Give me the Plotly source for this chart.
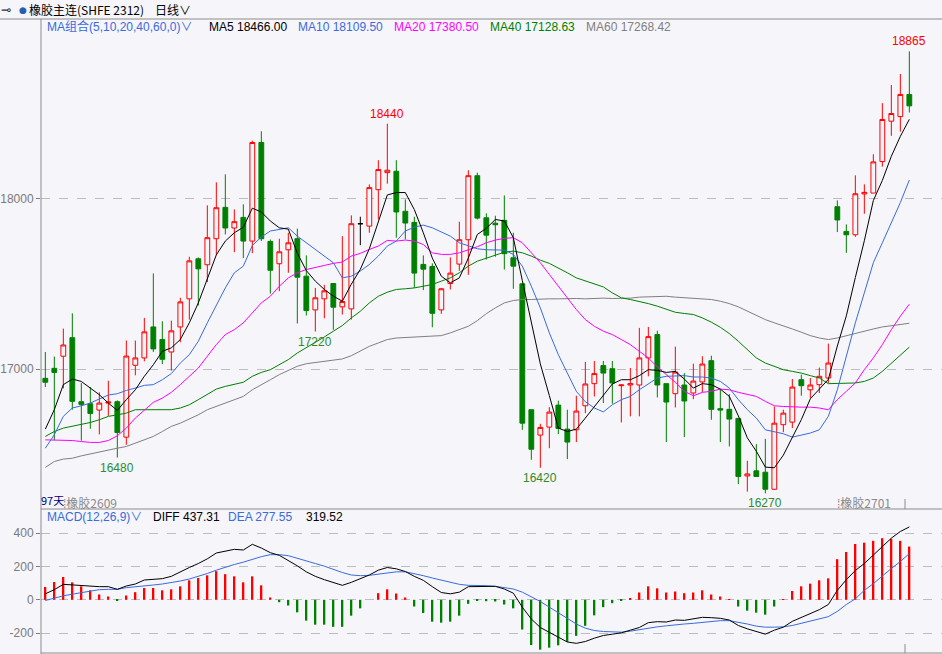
import plotly.graph_objects as go

# ---- candles (97 trading days) ----
opens = [16945, 17004, 17075, 17184, 16808, 16796, 16759, 16800, 16808, 16600,
         17022, 17065, 17247, 17173, 17100, 17247, 17412, 17647, 17612, 17765,
         17949, 17828, 17890, 17751, 18330, 17749, 17618, 17700, 17765, 17545,
         17347, 17412, 17502, 17365, 17353, 17853, 17839, 18053, 18153, 18161,
         17926, 17861, 17614, 17602, 17347, 17502, 17616, 17759, 18135, 17888,
         17856, 17873, 17653, 17500, 16761, 16612, 16659, 16788, 16647, 16643,
         16784, 16914, 17020, 17002, 16902, 16906, 16906, 17065, 17202, 16914,
         16855, 16906, 16859, 16924, 17049, 16767, 16763, 16710, 16372, 16402,
         16394, 16294, 16673, 16688, 16937, 16878, 16908, 16947, 17953, 17808,
         17788, 18028, 18033, 18218, 18455, 18482, 18612]
highs = [17100, 17073, 17237, 17327, 16918, 16894, 16863, 16931, 16816, 17167,
         17167, 17300, 17561, 17280, 17284, 17418, 17659, 17655, 17961, 18096,
         18143, 17937, 17967, 18341, 18396, 17760, 17765, 17800, 17824, 17667,
         17476, 17494, 17502, 17780, 17902, 17894, 18084, 18226, 18440, 18226,
         17996, 17894, 17667, 17620, 17476, 17655, 17865, 18167, 18153, 17914,
         17900, 18019, 17800, 17500, 16761, 16678, 16776, 16814, 16761, 16843,
         17041, 17047, 17047, 17047, 16910, 17006, 17241, 17247, 17225, 16914,
         17131, 16976, 17031, 17075, 17078, 16878, 16853, 16710, 16461, 16559,
         16590, 16780, 16761, 16941, 16967, 16947, 17008, 17149, 17990, 17849,
         18137, 18084, 18261, 18561, 18667, 18732, 18865]
lows = [16894, 16582, 16886, 16761, 16580, 16649, 16616, 16725, 16480, 16555,
        16963, 17045, 17100, 17029, 16990, 17157, 17290, 17373, 17510, 17669,
        17790, 17686, 17651, 17680, 17751, 17443, 17457, 17565, 17267, 17314,
        17220, 17298, 17230, 17320, 17290, 17727, 17800, 17878, 18088, 17771,
        17761, 17476, 17463, 17245, 17324, 17467, 17576, 17553, 17878, 17643,
        17659, 17584, 17471, 16643, 16467, 16420, 16535, 16618, 16471, 16571,
        16741, 16839, 16800, 16796, 16686, 16722, 16722, 16957, 16833, 16571,
        16774, 16600, 16823, 16863, 16702, 16571, 16545, 16325, 16280, 16369,
        16270, 16290, 16629, 16653, 16843, 16829, 16859, 16918, 17804, 17682,
        17776, 17912, 18033, 18188, 18369, 18394, 18506]
closes = [16922, 16980, 17141, 16810, 16792, 16739, 16800, 16806, 16627, 17076,
          17065, 17218, 17118, 17057, 17224, 17394, 17635, 17588, 17771, 17947,
          17828, 17865, 17751, 18330, 17765, 17580, 17688, 17741, 17539, 17343,
          17418, 17459, 17363, 17396, 17853, 17853, 18065, 18171, 18167, 17922,
          17857, 17563, 17586, 17327, 17471, 17563, 17759, 18135, 17886, 17786,
          17847, 17677, 17604, 16682, 16529, 16657, 16747, 16651, 16571, 16753,
          16912, 16973, 16976, 16918, 16906, 16914, 17065, 17190, 16906, 16806,
          16982, 16812, 16929, 17029, 16763, 16759, 16706, 16369, 16384, 16369,
          16294, 16682, 16741, 16894, 16902, 16906, 16957, 17035, 17875, 17788,
          18029, 18037, 18216, 18465, 18500, 18612, 18545]

# ---- moving averages ----
ma5 = [16647, 16761, 16908, 16941, 16927, 16888, 16849, 16800, 16757, 16820,
       16878, 16957, 17025, 17104, 17124, 17173, 17271, 17388, 17525, 17670,
       17751, 17800, 17832, 17944, 17922, 17869, 17829, 17821, 17680, 17578,
       17516, 17467, 17428, 17398, 17498, 17585, 17706, 17868, 18022, 18036,
       18036, 17936, 17800, 17651, 17545, 17506, 17535, 17651, 17790, 17826,
       17878, 17869, 17771, 17519, 17268, 17030, 16844, 16653, 16633, 16647,
       16712, 16780, 16849, 16912, 16937, 16937, 16961, 16996, 16992, 16980,
       16986, 16941, 16888, 16914, 16908, 16882, 16839, 16725, 16596, 16517,
       16424, 16420, 16494, 16596, 16703, 16825, 16880, 16939, 17135, 17312,
       17537, 17753, 17989, 18107, 18249, 18366, 18466.00]
ma10 = [16535, 16614, 16722, 16771, 16784, 16800, 16824, 16847, 16855, 16874,
        16888, 16904, 16908, 16937, 16973, 17035, 17084, 17163, 17271, 17378,
        17476, 17565, 17604, 17725, 17775, 17810, 17820, 17829, 17780, 17741,
        17702, 17663, 17624, 17535, 17545, 17575, 17614, 17663, 17722, 17751,
        17810, 17833, 17845, 17829, 17804, 17780, 17741, 17722, 17706, 17700,
        17698, 17698, 17673, 17604, 17486, 17359, 17212, 17084, 16976, 16869,
        16808, 16771, 16748, 16790, 16820, 16839, 16878, 16914, 16947, 16957,
        16957, 16961, 16953, 16953, 16947, 16927, 16888, 16820, 16761, 16712,
        16643, 16633, 16620, 16600, 16614, 16624, 16643, 16722, 16878, 17075,
        17271, 17447, 17624, 17741, 17859, 17977, 18109.50]
ma20 = [16584, 16584, 16584, 16580, 16574, 16569, 16569, 16580, 16608, 16653,
        16712, 16761, 16804, 16829, 16863, 16908, 16957, 17006, 17075, 17143,
        17202, 17231, 17271, 17329, 17388, 17427, 17486, 17535, 17565, 17584,
        17594, 17608, 17620, 17628, 17663, 17679, 17702, 17722, 17755, 17751,
        17757, 17751, 17731, 17682, 17673, 17673, 17682, 17698, 17718, 17741,
        17757, 17767, 17771, 17741, 17682, 17624, 17555, 17486, 17418, 17349,
        17290, 17251, 17222, 17202, 17173, 17143, 17104, 17065, 17012, 16967,
        16922, 16869, 16843, 16863, 16869, 16882, 16878, 16863, 16849, 16839,
        16810, 16784, 16780, 16776, 16776, 16776, 16771, 16761, 16820, 16869,
        16918, 16996, 17065, 17143, 17231, 17310, 17380.50]
ma40 = [16604, 16633, 16653, 16663, 16673, 16686, 16702, 16722, 16731, 16741,
        16761, 16761, 16761, 16761, 16761, 16771, 16790, 16820, 16849, 16882,
        16898, 16908, 16922, 16957, 16980, 16996, 17025, 17055, 17094, 17124,
        17157, 17188, 17222, 17255, 17300, 17339, 17388, 17427, 17451, 17467,
        17471, 17476, 17486, 17496, 17516, 17535, 17565, 17604, 17633, 17650,
        17667, 17686, 17692, 17682, 17663, 17639, 17620, 17594, 17565, 17535,
        17516, 17500, 17482, 17447, 17418, 17408, 17398, 17384, 17369, 17349,
        17333, 17326, 17320, 17300, 17275, 17245, 17208, 17163, 17114, 17065,
        17035, 17016, 16996, 16986, 16976, 16961, 16947, 16914, 16914, 16914,
        16918, 16927, 16947, 16986, 17035, 17084, 17128.63]
ma60 = [16422, 16457, 16471, 16476, 16490, 16502, 16512, 16525, 16535, 16545,
        16565, 16584, 16604, 16633, 16663, 16682, 16706, 16731, 16761, 16780,
        16800, 16816, 16839, 16878, 16910, 16937, 16967, 16992, 17016, 17031,
        17039, 17045, 17051, 17059, 17078, 17104, 17133, 17153, 17173, 17182,
        17184, 17186, 17190, 17192, 17196, 17212, 17231, 17251, 17284, 17325,
        17359, 17388, 17402, 17408, 17408, 17412, 17412, 17412, 17414, 17414,
        17412, 17416, 17416, 17414, 17414, 17416, 17422, 17425, 17427, 17427,
        17422, 17418, 17416, 17412, 17408, 17398, 17384, 17365, 17339, 17314,
        17290, 17271, 17255, 17235, 17216, 17196, 17182, 17173, 17182, 17196,
        17206, 17220, 17235, 17247, 17255, 17263, 17268.42]

# ---- MACD(12,26,9) ----
diff = [36, 61, 93, 89, 89, 83, 79, 79, 63, 83,
        95, 119, 125, 127, 141, 170, 194, 218, 246, 281,
        293, 303, 299, 333, 311, 283, 267, 238, 204, 168,
        141, 121, 103, 87, 105, 127, 149, 178, 194, 186,
        170, 141, 117, 79, 44, 36, 46, 79, 81, 81,
        81, 65, 40, -44, -115, -166, -196, -226, -253, -261,
        -250, -230, -214, -206, -198, -182, -166, -137, -131, -133,
        -121, -123, -113, -105, -107, -111, -121, -154, -174, -190,
        -206, -182, -164, -129, -105, -85, -59, -28, 57, 121,
        176, 218, 267, 319, 370, 410, 437.31]
dea = [-4, 12, 24, 34, 44, 55, 61, 63, 63, 73,
       77, 83, 89, 95, 103, 113, 125, 141, 158, 178,
       196, 212, 226, 244, 259, 271, 271, 265, 248, 232,
       218, 202, 182, 164, 149, 145, 147, 154, 162, 168,
       168, 158, 145, 131, 119, 105, 93, 87, 87, 85,
       81, 73, 65, 46, 20, -10, -44, -79, -111, -145,
       -170, -184, -190, -194, -194, -188, -178, -170, -162, -156,
       -149, -145, -141, -135, -127, -125, -125, -133, -145, -158,
       -164, -164, -162, -154, -141, -129, -115, -101, -69, -28,
       6, 57, 97, 145, 188, 230, 277.55]
macd_hist = [77, 107, 137, 105, 81, 57, 32, 20, -4, 26,
             46, 71, 71, 57, 63, 81, 117, 131, 147, 172,
             154, 141, 105, 141, 87, 14, -14, -34, -75, -125,
             -149, -149, -162, -162, -95, -51, 0, 40, 63, 38,
             14, -40, -79, -131, -137, -131, -95, -24, -3, -8,
             -10, -28, -51, -178, -271, -299, -287, -273, -253, -216,
             -156, -93, -44, -20, -4, 10, 44, 81, 69, 44,
             50, 40, 44, 57, 32, 20, 4, -40, -65, -77,
             -89, -40, 4, 53, 81, 97, 117, 129, 244, 287,
             335, 343, 354, 370, 366, 354, 319.52]

# marked extremes (day number) and contract roll labels
high_marks = [39, 97]
low_marks = [9, 31, 56, 81]
contract_days = [3, 89]
contract_names = ["橡胶2609", "橡胶2701"]

days = list(range(1, len(closes) + 1))

W, H = 942, 654
BG = "#f5f5fa"
RED = "#ff0000"
GREEN = "#008000"
BLUE = "#3a6bdc"
MAG = "#ff00ff"
GRAY = "#808080"
LATIN = "Liberation Sans, Noto Sans CJK SC, sans-serif"
CJK = "Noto Sans CJK SC, Liberation Sans, sans-serif"


def px(x):
    return x / W


def py(y):
    return 1 - y / H


fig = go.Figure()

# normal candles / doji candles (open == close drawn black)
norm = [i for i in range(len(days)) if opens[i] != closes[i]]
doji = [i for i in range(len(days)) if opens[i] == closes[i]]

fig.add_trace(go.Candlestick(
    x=[days[i] for i in norm],
    open=[opens[i] for i in norm], high=[highs[i] for i in norm],
    low=[lows[i] for i in norm], close=[closes[i] for i in norm],
    increasing=dict(line=dict(color=RED, width=1), fillcolor=BG),
    decreasing=dict(line=dict(color=GREEN, width=1), fillcolor=GREEN),
    xaxis="x", yaxis="y", showlegend=False, hoverinfo="skip"))
fig.add_trace(go.Candlestick(
    x=[days[i] for i in doji],
    open=[opens[i] for i in doji], high=[highs[i] for i in doji],
    low=[lows[i] for i in doji], close=[closes[i] for i in doji],
    increasing=dict(line=dict(color="black", width=1), fillcolor="black"),
    decreasing=dict(line=dict(color="black", width=1), fillcolor="black"),
    xaxis="x", yaxis="y", showlegend=False, hoverinfo="skip"))

for vals, col in [(ma60, GRAY), (ma40, GREEN), (ma20, MAG), (ma10, BLUE), (ma5, "black")]:
    fig.add_trace(go.Scatter(x=days, y=vals, mode="lines", line=dict(color=col, width=1),
                             xaxis="x", yaxis="y", showlegend=False, hoverinfo="skip"))

# MACD panel
fig.add_trace(go.Bar(x=days, y=macd_hist, width=0.22,
                     marker=dict(color=[RED if v >= 0 else GREEN for v in macd_hist], line=dict(width=0)),
                     xaxis="x2", yaxis="y2", showlegend=False, hoverinfo="skip"))
fig.add_trace(go.Scatter(x=days, y=dea, mode="lines", line=dict(color=BLUE, width=1),
                         xaxis="x2", yaxis="y2", showlegend=False, hoverinfo="skip"))
fig.add_trace(go.Scatter(x=days, y=diff, mode="lines", line=dict(color="black", width=1),
                         xaxis="x2", yaxis="y2", showlegend=False, hoverinfo="skip"))

xdom = [px(41), 1]
xrange_ = [0.52, 100.63]
axis_x = dict(domain=xdom, range=xrange_, showgrid=False, zeroline=False,
              showticklabels=False, ticks="", showline=False, fixedrange=True,
              automargin=False)
tickfont = dict(family=LATIN, size=12, color="#7a7a7a")
axis_y = dict(showgrid=True, gridcolor="#bdbdbd", griddash="dash", gridwidth=1,
              zeroline=False, showline=False, ticks="outside", ticklen=4,
              tickcolor=GRAY, tickfont=tickfont, fixedrange=True, automargin=False)

fig.update_layout(
    width=W, height=H,
    margin=dict(l=0, r=0, t=0, b=0, autoexpand=False),
    paper_bgcolor=BG, plot_bgcolor=BG,
    boxgap=0.24,
    hovermode=False,
    xaxis=dict(axis_x, anchor="y", rangeslider=dict(visible=False)),
    xaxis2=dict(axis_x, anchor="y2"),
    yaxis=dict(axis_y, domain=[py(509), py(19)], range=[16178, 19055],
               tickvals=[17000, 18000], ticktext=["17000", "18000"]),
    yaxis2=dict(axis_y, domain=[0, py(509)], range=[-325, 545],
                tickvals=[-200, 0, 200, 400], ticktext=["-200", "0", "200", "400"]),
)

# frame lines
line_col = "#8c8c8c"
for x0, y0, x1, y1 in [(0, 19, W, 19), (41, 509, W, 509), (41, 653, W, 653), (41, 19, 41, H),
                       (905, 499, 905, 509), (905, 644, 905, 653)]:
    fig.add_shape(type="line", xref="paper", yref="paper",
                  x0=px(x0), y0=py(y0), x1=px(x1), y1=py(y1),
                  line=dict(color=line_col, width=1))

ann = []


def text(x, y, s, color, size=12, family=LATIN):
    ann.append(dict(xref="paper", yref="paper", x=px(x), y=py(y), text=s,
                    xanchor="left", yanchor="middle", showarrow=False,
                    font=dict(family=family, size=size, color=color)))


# title row
text(-1, 10, "⊸", "#333333", 12, "DejaVu Sans")
text(17, 10, "●", "#2a5bb8", 9, "DejaVu Sans")
text(27, 10, "橡胶主连(SHFE 2312)", "black", 12, CJK)
text(153, 10, "日线∨", "black", 12, CJK)

# MA row
text(45, 27, "MA组合(5,10,20,40,60,0)∨", BLUE)
ma_labels = ["MA5", "MA10", "MA20", "MA40", "MA60"]
ma_last = [ma5[-1], ma10[-1], ma20[-1], ma40[-1], ma60[-1]]
ma_cols = ["black", BLUE, MAG, GREEN, GRAY]
ma_x = [207, 296, 392, 488, 584]
for lab, v, c, x in zip(ma_labels, ma_last, ma_cols, ma_x):
    text(x, 27, f"{lab} {v:.2f}", c)

# MACD row
text(45, 517, "MACD(12,26,9)∨", BLUE)
text(151, 517, f"DIFF {diff[-1]:.2f}", "black")
text(226, 517, f"DEA {dea[-1]:.2f}", BLUE)
text(304, 517, f"{macd_hist[-1]:.2f}", "black")

# bottom-left labels
text(39, 500, "97天", "#000080", 11, CJK)
for d, name in zip(contract_days, contract_names):
    ann.append(dict(xref="x", yref="paper", x=d, y=py(502), text="⁞" + name,
                    xanchor="left", yanchor="middle", xshift=-2, showarrow=False,
                    font=dict(family=CJK, size=12, color="#8a8a8a")))

# extreme price labels
for d in high_marks:
    ann.append(dict(xref="x", yref="y", x=d, y=highs[d - 1], text=str(highs[d - 1]),
                    xanchor="center", yanchor="bottom", showarrow=False, yshift=1,
                    font=dict(family=LATIN, size=12, color=RED)))
for d in low_marks:
    ann.append(dict(xref="x", yref="y", x=d, y=lows[d - 1], text=str(lows[d - 1]),
                    xanchor="center", yanchor="top", showarrow=False, yshift=-1,
                    font=dict(family=LATIN, size=12, color="#2e8b2e")))

fig.update_layout(annotations=ann)

# the page body has a default 8px margin; drop it so the figure sits at the window corner
fig.write_html("out.html", config={"displayModeBar": False},
               post_script="document.body.style.margin='0';")
